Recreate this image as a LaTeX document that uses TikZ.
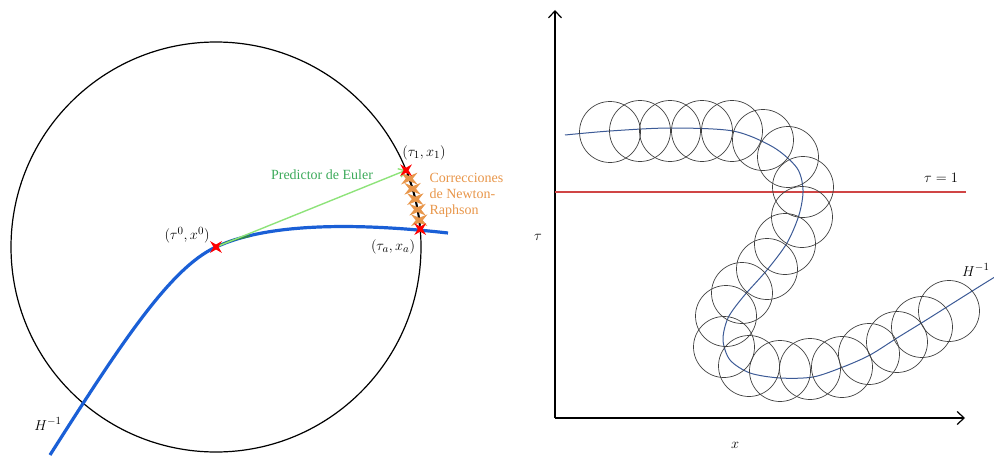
\documentclass[tikz,border=0pt]{standalone}
\usepackage{fontspec}
\setmainfont{Liberation Serif}
\usepackage{amsmath}
\usetikzlibrary{arrows.meta, positioning, calc, shapes.geometric}
\definecolor{pathblue}{HTML}{1A5FD6}
\definecolor{curveblue}{HTML}{3C5A96}
\definecolor{eulergreen}{HTML}{8EE37A}
\definecolor{eulertext}{HTML}{3CAA5A}
\definecolor{newtonorange}{HTML}{E8964A}
\definecolor{tauline}{HTML}{D04545}
\tikzset{
  lbl/.style={font=\fontsize{14}{16}\selectfont},
  mlbl/.style={font=\fontsize{15}{17}\selectfont},
  redmark/.style={star, star points=4, star point ratio=0.3, minimum size=5pt,
    inner sep=0pt, outer sep=0pt, fill=red},
  orangemark/.style={redmark, fill=newtonorange, xscale=1.4},
  ball/.style={draw=black!75, line width=0.7pt},
  axis/.style={line width=1.2pt, -{Straight Barb[length=7pt,width=13pt]}},
}
\begin{document}
\begin{tikzpicture}[x=1pt, y=1pt, >=Stealth]
  \useasboundingbox (0,0) rectangle (994,459);

  % Left: circle around the start point
  \coordinate (x0) at (216,212);
  \draw[line width=1.2pt] (x0) circle (205pt);
  \coordinate (t1) at ($(x0)+(22:205)$);
  \coordinate (ta) at ($(x0)+(5:205)$);

  % Path H^{-1}
  \draw[pathblue, line width=3.2pt] (50,4) .. controls (120,114) and (170,191) .. (x0)
    .. controls (265,235) and (350,237) .. (448,226);
  \draw[eulertext!80!black, line width=2pt] (x0) .. controls (232,219) .. (250,223);

  % Euler predictor
  \draw[eulergreen, line width=1.4pt, -{Straight Barb[length=6pt,width=9pt]}] (x0) -- (t1);

  % Newton-Raphson corrections on the circle
  \draw[line width=2pt] ($(x0)+(21:205)$) arc[start angle=21, end angle=6, radius=205pt];
  \foreach \a [count=\i] in {19.5,16.5,13.5,10.5,7.5}
    \node[orangemark] (nr\i) at ($(x0)+(\a:205)$) {};
  \node[redmark] (m0) at (x0) {};
  \node[redmark] (m1) at (t1) {};
  \node[redmark] (ma) at (ta) {};

  % Labels
  \node[lbl, eulertext] (eulerlbl) at (322,284) {Predictor de Euler};
  \node[mlbl] (x0lbl) at (187,224) {$(\tau^0, x^0)$};
  \node[mlbl] (t1lbl) at (424,306) {$(\tau_1, x_1)$};
  \node[mlbl] (talbl) at (393,212) {$(\tau_a, x_a)$};
  \node[lbl, newtonorange, anchor=west, align=left] (nrlbl) at (426,264)
    {Correcciones\\de Newton-\\Raphson};
  \node[mlbl] (hleft) at (48,35) {$H^{-1}$};

  % Right: axes
  \coordinate (o) at (555,41);
  \draw[axis] (o) -- (555,449);
  \draw[axis] (o) -- (965,41);
  \node[mlbl] (taulbl) at (538,222) {$\tau$};
  \node[mlbl] (xlbl) at (735,14) {$x$};

  % tau = 1
  \draw[tauline, line width=1.1pt] (555,267) -- (966,267);
  \node[mlbl] (onelbl) at (941,281) {$\tau = 1$};

  % Continuation path
  \draw[curveblue, line width=1pt] plot[smooth] coordinates {(565,324) (610,328)
      (670,331) (733,328) (773,312) (797,291) (803,269) (799,244) (787,216)
      (767,189) (743,162) (728,141) (723,119) (730,99) (750,86) (780,81)
      (813,82) (843,92) (870,104) (897,121) (923,137) (950,154) (977,171)
      (998,184)};
  % Circles along the path
  \foreach \cx/\cy in {610/327, 640/328, 670/328, 702/328, 732/328, 763/319,
      788/302, 803/272, 802/242, 785/215, 767/190, 742/166, 726/143, 724/112,
      749/93, 780/88, 810/90, 842/92, 869/105, 897/117, 922/132, 949/148}
    \draw[ball] (\cx,\cy) circle (30.5pt);
  \node[mlbl, anchor=east] (hright) at (993,189) {$H^{-1}$};
\end{tikzpicture}
\end{document}
